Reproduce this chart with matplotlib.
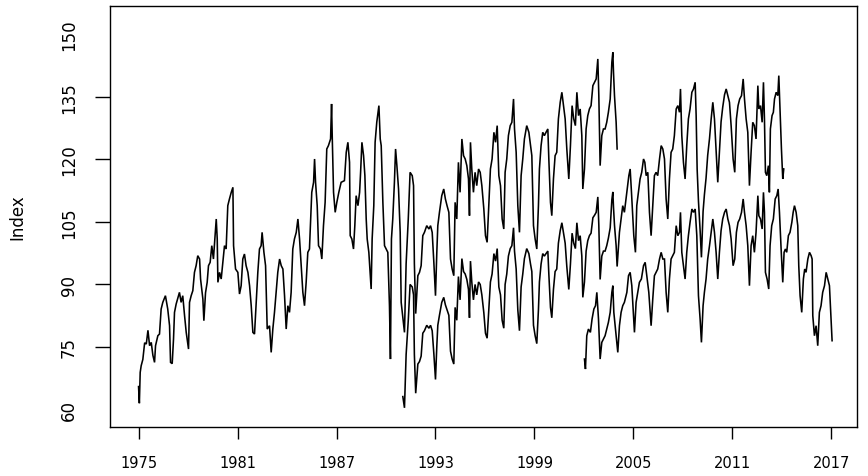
import matplotlib
matplotlib.use("Agg")
import matplotlib.pyplot as plt

# ---- data (decimal year, index value) ----
u_year = [1975.00, 1975.05, 1975.10, 1975.16, 1975.26, 1975.37, 1975.47, 1975.57, 1975.67, 1975.77, 1975.87, 1975.97,
          1976.03, 1976.17, 1976.27, 1976.37, 1976.47, 1976.63, 1976.77, 1976.88, 1976.94, 1977.04, 1977.12, 1977.18,
          1977.28, 1977.48, 1977.58, 1977.68, 1977.79, 1977.89, 1978.03, 1978.09, 1978.19, 1978.29, 1978.39, 1978.49,
          1978.59, 1978.70, 1978.76, 1978.90, 1978.96, 1979.06, 1979.16, 1979.24, 1979.34, 1979.44, 1979.54, 1979.65,
          1979.71, 1979.77, 1979.81, 1979.91, 1980.01, 1980.11, 1980.21, 1980.31, 1980.41, 1980.51, 1980.62, 1980.72,
          1980.76, 1980.88, 1981.02, 1981.12, 1981.22, 1981.32, 1981.42, 1981.52, 1981.63, 1981.73, 1981.83, 1981.93,
          1982.03, 1982.13, 1982.23, 1982.33, 1982.43, 1982.49, 1982.60, 1982.70, 1982.80, 1982.94, 1983.04, 1983.14,
          1983.24, 1983.34, 1983.44, 1983.55, 1983.65, 1983.75, 1983.85, 1983.95, 1984.05, 1984.15, 1984.25, 1984.35,
          1984.45, 1984.56, 1984.66, 1984.76, 1984.86, 1984.96, 1985.06, 1985.16, 1985.26, 1985.36, 1985.42, 1985.50,
          1985.61, 1985.67, 1985.73, 1985.83, 1985.91, 1986.03, 1986.11, 1986.21, 1986.31, 1986.41, 1986.51, 1986.64,
          1986.70, 1986.74, 1986.82, 1986.92, 1987.02, 1987.14, 1987.28, 1987.48, 1987.59, 1987.69, 1987.79, 1987.83,
          1987.93, 1988.03, 1988.11, 1988.19, 1988.30, 1988.40, 1988.46, 1988.54, 1988.64, 1988.72, 1988.80, 1988.86,
          1988.96, 1989.04, 1989.10, 1989.16, 1989.26, 1989.34, 1989.44, 1989.57, 1989.65, 1989.71, 1989.81, 1989.91,
          1990.01, 1990.11, 1990.21, 1990.27, 1990.33, 1990.41, 1990.51, 1990.58, 1990.66, 1990.76, 1990.86, 1990.92,
          1991.02, 1991.12, 1991.22, 1991.35, 1991.46, 1991.59, 1991.67, 1991.72, 1991.80, 1991.93, 1992.03, 1992.13,
          1992.23, 1992.33, 1992.47, 1992.60, 1992.70, 1992.80, 1992.90, 1993.00, 1993.08, 1993.14, 1993.24, 1993.38,
          1993.50, 1993.60, 1993.70, 1993.81, 1993.91, 1994.01, 1994.11, 1994.19, 1994.29, 1994.39, 1994.49, 1994.60,
          1994.70, 1994.80, 1994.90, 1995.00, 1995.06, 1995.12, 1995.20, 1995.30, 1995.40, 1995.50, 1995.61, 1995.71,
          1995.81, 1995.93, 1996.03, 1996.13, 1996.23, 1996.33, 1996.43, 1996.54, 1996.64, 1996.74, 1996.84, 1996.94,
          1997.04, 1997.14, 1997.22, 1997.32, 1997.42, 1997.53, 1997.63, 1997.73, 1997.79, 1997.89, 1997.99, 1998.09,
          1998.19, 1998.29, 1998.39, 1998.53, 1998.66, 1998.76, 1998.84, 1998.94, 1999.04, 1999.14, 1999.24, 1999.30,
          1999.40, 1999.50, 1999.60, 1999.70, 1999.81, 1999.87, 1999.97, 2000.05, 2000.15, 2000.25, 2000.35, 2000.45,
          2000.56, 2000.66, 2000.76, 2000.86, 2000.96, 2001.08, 2001.18, 2001.28, 2001.38, 2001.48, 2001.57, 2001.67,
          2001.77, 2001.87, 2001.93, 2002.03, 2002.13, 2002.23, 2002.33, 2002.43, 2002.54, 2002.64, 2002.74, 2002.84,
          2002.90, 2002.98, 2003.08, 2003.18, 2003.28, 2003.38, 2003.48, 2003.59, 2003.69, 2003.75, 2003.79, 2003.85,
          2003.95, 2004.01]
u_value = [65.5, 61.5, 68.9, 70.5, 72.0, 76.0, 75.7, 79.0, 75.3, 76.1, 73.0, 71.3,
           75.3, 77.7, 78.1, 84.1, 85.7, 87.3, 84.1, 80.1, 71.3, 71.0, 76.9, 83.3,
           85.3, 88.1, 85.7, 87.3, 82.5, 78.5, 74.5, 85.7, 87.3, 88.5, 92.9, 94.5,
           96.9, 96.1, 91.3, 86.5, 81.3, 88.0, 90.5, 94.5, 95.3, 99.3, 96.1, 102.5,
           105.7, 100.9, 90.5, 92.9, 91.3, 95.3, 99.3, 98.5, 108.9, 110.5, 112.1, 113.3,
           99.3, 93.7, 92.9, 87.7, 89.7, 96.1, 97.3, 94.5, 92.9, 89.7, 84.9, 78.5,
           78.1, 85.7, 92.9, 98.5, 99.3, 102.5, 97.7, 94.5, 79.3, 80.1, 73.7, 79.3,
           83.3, 88.1, 92.9, 96.1, 94.5, 93.7, 87.3, 79.3, 84.9, 83.3, 88.1, 98.5,
           100.9, 102.5, 105.7, 100.9, 94.5, 88.1, 84.9, 90.5, 97.7, 98.5, 104.1, 112.1,
           114.5, 120.1, 114.5, 108.9, 99.3, 98.5, 96.1, 104.1, 109.7, 122.5, 123.3, 124.9,
           133.3, 125.7, 112.1, 107.3, 109.7, 112.1, 114.5, 114.9, 121.7, 124.1, 119.3, 101.7,
           100.9, 98.5, 104.1, 111.3, 108.9, 112.1, 116.9, 124.1, 120.9, 116.1, 105.7, 100.9,
           97.7, 92.9, 88.9, 100.9, 108.9, 124.1, 128.9, 132.9, 124.9, 123.3, 109.7, 99.3,
           98.5, 97.7, 84.9, 72.1, 100.9, 105.7, 114.5, 122.5, 118.5, 112.9, 102.5, 85.7,
           82.0, 78.5, 95.0, 105.7, 116.9, 116.1, 113.7, 95.0, 83.0, 92.1, 92.9, 94.5,
           101.7, 102.5, 104.1, 103.3, 104.1, 102.5, 95.3, 87.3, 97.7, 104.1, 107.3, 111.3,
           112.9, 110.5, 108.9, 107.3, 96.1, 93.7, 92.1, 109.7, 105.7, 119.3, 112.1, 124.9,
           120.9, 120.1, 118.5, 115.3, 106.5, 124.1, 117.7, 112.1, 116.9, 113.7, 117.7, 116.9,
           113.7, 108.1, 101.7, 100.1, 108.9, 117.7, 120.1, 126.5, 124.1, 128.1, 116.1, 113.7,
           105.7, 103.3, 116.9, 120.1, 125.7, 128.1, 128.9, 134.5, 127.3, 121.7, 108.9, 102.5,
           116.1, 120.1, 124.9, 128.1, 126.5, 123.3, 120.9, 104.1, 100.9, 98.5, 108.9, 117.7,
           123.3, 126.5, 125.7, 126.5, 127.3, 120.1, 109.7, 106.5, 115.3, 120.9, 121.7, 129.7,
           133.7, 136.1, 132.9, 129.7, 122.5, 115.3, 123.3, 132.9, 129.7, 128.1, 136.1, 130.5,
           132.1, 125.7, 112.9, 117.7, 127.3, 130.5, 132.1, 132.9, 137.7, 138.5, 139.3, 144.1,
           135.3, 118.5, 125.7, 127.3, 127.3, 128.9, 131.3, 134.5, 143.3, 145.7, 140.9, 135.3,
           128.9, 122.5]

m_year = [1991.02, 1991.12, 1991.22, 1991.35, 1991.46, 1991.59, 1991.67, 1991.72, 1991.80, 1991.93, 1992.03, 1992.13,
          1992.23, 1992.33, 1992.47, 1992.60, 1992.70, 1992.80, 1992.90, 1993.00, 1993.08, 1993.14, 1993.24, 1993.38,
          1993.50, 1993.60, 1993.70, 1993.81, 1993.91, 1994.01, 1994.11, 1994.19, 1994.29, 1994.39, 1994.49, 1994.60,
          1994.70, 1994.80, 1994.90, 1995.00, 1995.06, 1995.12, 1995.20, 1995.30, 1995.40, 1995.50, 1995.61, 1995.71,
          1995.81, 1995.93, 1996.03, 1996.13, 1996.23, 1996.33, 1996.43, 1996.54, 1996.64, 1996.74, 1996.84, 1996.94,
          1997.04, 1997.14, 1997.22, 1997.32, 1997.42, 1997.53, 1997.63, 1997.73, 1997.79, 1997.89, 1997.99, 1998.09,
          1998.19, 1998.29, 1998.39, 1998.53, 1998.66, 1998.76, 1998.84, 1998.94, 1999.04, 1999.14, 1999.24, 1999.30,
          1999.40, 1999.50, 1999.60, 1999.70, 1999.81, 1999.87, 1999.97, 2000.05, 2000.15, 2000.25, 2000.35, 2000.45,
          2000.56, 2000.66, 2000.76, 2000.86, 2000.96, 2001.08, 2001.18, 2001.28, 2001.38, 2001.48, 2001.57, 2001.67,
          2001.77, 2001.87, 2001.93, 2002.03, 2002.13, 2002.23, 2002.33, 2002.43, 2002.54, 2002.64, 2002.74, 2002.84,
          2002.90, 2002.98, 2003.08, 2003.18, 2003.28, 2003.38, 2003.48, 2003.59, 2003.69, 2003.75, 2003.79, 2003.85,
          2003.95, 2004.01, 2004.15, 2004.25, 2004.35, 2004.45, 2004.60, 2004.72, 2004.80, 2004.88, 2005.02, 2005.12,
          2005.20, 2005.30, 2005.40, 2005.50, 2005.61, 2005.69, 2005.77, 2005.87, 2005.97, 2006.07, 2006.17, 2006.27,
          2006.37, 2006.47, 2006.58, 2006.68, 2006.78, 2006.88, 2006.98, 2007.08, 2007.18, 2007.28, 2007.38, 2007.48,
          2007.59, 2007.69, 2007.79, 2007.85, 2007.93, 2008.03, 2008.13, 2008.23, 2008.33, 2008.43, 2008.54, 2008.64,
          2008.74, 2008.80, 2008.86, 2008.94, 2009.04, 2009.12, 2009.22, 2009.30, 2009.40, 2009.50, 2009.61, 2009.71,
          2009.81, 2009.91, 2010.01, 2010.11, 2010.21, 2010.31, 2010.41, 2010.52, 2010.62, 2010.72, 2010.82, 2010.92,
          2011.04, 2011.14, 2011.24, 2011.34, 2011.44, 2011.55, 2011.65, 2011.73, 2011.83, 2011.93, 2012.03, 2012.13,
          2012.23, 2012.33, 2012.43, 2012.54, 2012.60, 2012.70, 2012.80, 2012.88, 2012.94, 2013.00, 2013.08, 2013.18,
          2013.24, 2013.30, 2013.40, 2013.48, 2013.55, 2013.65, 2013.75, 2013.81, 2013.89, 2013.97, 2014.05, 2014.11]
m_value = [63.1, 60.4, 73.2, 81.4, 90.0, 89.4, 87.5, 73.2, 63.9, 70.9, 71.5, 72.8,
           78.3, 78.9, 80.2, 79.5, 80.2, 78.9, 73.4, 67.2, 75.2, 80.2, 82.6, 85.7,
           86.9, 85.1, 83.9, 82.6, 74.0, 72.1, 70.9, 84.5, 81.4, 91.9, 86.3, 96.2,
           93.1, 92.5, 91.2, 88.8, 82.0, 95.6, 90.6, 86.3, 90.0, 87.5, 90.6, 90.0,
           87.5, 83.2, 78.3, 77.1, 83.9, 90.6, 92.5, 97.4, 95.6, 98.6, 89.4, 87.5,
           81.4, 79.5, 90.0, 92.5, 96.8, 98.6, 99.3, 103.6, 98.0, 93.7, 83.9, 78.9,
           89.4, 92.5, 96.2, 98.6, 97.4, 94.9, 93.1, 80.2, 77.7, 75.8, 83.9, 90.6,
           94.9, 97.4, 96.8, 97.4, 98.0, 92.5, 84.5, 82.0, 88.8, 93.1, 93.7, 99.9,
           102.9, 104.8, 102.3, 99.9, 94.3, 88.8, 94.9, 102.3, 99.9, 98.6, 104.8, 100.5,
           101.7, 96.8, 86.9, 90.6, 98.0, 100.5, 101.7, 102.3, 106.0, 106.6, 107.3, 111.0,
           104.2, 91.2, 96.8, 98.0, 98.0, 99.3, 101.1, 103.6, 110.3, 112.2, 108.5, 104.2,
           99.3, 94.3, 102.5, 105.7, 108.9, 107.3, 112.1, 116.1, 117.7, 112.1, 101.7, 97.7,
           108.9, 112.1, 115.3, 116.9, 120.1, 119.3, 116.1, 116.9, 107.3, 101.7, 108.9, 116.1,
           116.9, 116.1, 120.1, 123.3, 122.5, 120.1, 110.5, 105.7, 115.3, 121.7, 122.5, 125.7,
           132.1, 132.9, 131.3, 136.9, 125.7, 119.3, 115.3, 123.3, 129.7, 132.1, 136.1, 136.9,
           138.5, 130.5, 117.7, 110.0, 103.0, 96.5, 107.5, 111.5, 115.5, 121.0, 125.0, 129.7,
           133.7, 129.7, 122.0, 114.5, 121.7, 129.0, 132.5, 135.5, 136.9, 135.3, 133.7, 128.1,
           120.1, 116.9, 129.7, 132.9, 134.5, 135.3, 139.3, 134.5, 129.7, 126.5, 113.7, 121.7,
           128.9, 128.1, 124.9, 137.7, 132.1, 132.9, 128.9, 138.5, 129.7, 116.9, 116.1, 118.5,
           112.1, 127.3, 130.5, 131.3, 134.5, 136.1, 135.3, 140.1, 131.3, 122.5, 115.3, 117.7]

l_year = [2002.03, 2002.09, 2002.17, 2002.27, 2002.39, 2002.49, 2002.60, 2002.70, 2002.78, 2002.88, 2002.98, 2003.08,
          2003.18, 2003.28, 2003.38, 2003.48, 2003.59, 2003.69, 2003.75, 2003.81, 2003.91, 2004.05, 2004.15, 2004.25,
          2004.35, 2004.45, 2004.60, 2004.70, 2004.80, 2004.90, 2005.06, 2005.16, 2005.26, 2005.36, 2005.48, 2005.61,
          2005.71, 2005.81, 2005.93, 2006.07, 2006.17, 2006.27, 2006.37, 2006.47, 2006.58, 2006.68, 2006.78, 2006.88,
          2006.98, 2007.08, 2007.18, 2007.28, 2007.38, 2007.48, 2007.59, 2007.69, 2007.79, 2007.85, 2007.93, 2008.03,
          2008.13, 2008.23, 2008.33, 2008.43, 2008.54, 2008.64, 2008.74, 2008.84, 2008.94, 2009.04, 2009.12, 2009.22,
          2009.30, 2009.40, 2009.50, 2009.61, 2009.71, 2009.81, 2009.91, 2010.01, 2010.11, 2010.21, 2010.31, 2010.41,
          2010.52, 2010.62, 2010.72, 2010.82, 2010.92, 2011.04, 2011.14, 2011.24, 2011.34, 2011.44, 2011.55, 2011.65,
          2011.73, 2011.83, 2011.93, 2012.03, 2012.13, 2012.23, 2012.33, 2012.43, 2012.54, 2012.60, 2012.70, 2012.80,
          2012.88, 2012.94, 2013.00, 2013.10, 2013.20, 2013.28, 2013.38, 2013.48, 2013.59, 2013.69, 2013.77, 2013.85,
          2013.95, 2014.05, 2014.13, 2014.21, 2014.29, 2014.39, 2014.49, 2014.60, 2014.68, 2014.76, 2014.86, 2014.96,
          2015.02, 2015.10, 2015.20, 2015.30, 2015.38, 2015.46, 2015.57, 2015.67, 2015.77, 2015.83, 2015.87, 2015.97,
          2016.07, 2016.17, 2016.27, 2016.37, 2016.47, 2016.58, 2016.68, 2016.78, 2016.88, 2016.98, 2017.04]
l_value = [72.1, 69.7, 77.7, 79.3, 78.5, 81.7, 84.1, 84.9, 88.1, 81.7, 72.1, 76.1,
           76.9, 77.7, 79.3, 80.9, 83.3, 88.1, 89.7, 83.3, 79.3, 73.7, 80.1, 83.3,
           84.9, 85.7, 88.1, 92.1, 92.9, 89.7, 78.5, 85.7, 88.1, 90.5, 91.3, 94.5,
           95.3, 92.1, 88.1, 80.1, 86.5, 92.1, 92.9, 93.7, 96.1, 97.7, 96.1, 96.1,
           88.1, 83.3, 91.3, 96.1, 96.9, 97.7, 104.1, 101.7, 102.5, 107.3, 97.7, 94.5,
           91.3, 97.7, 101.7, 104.9, 108.1, 107.3, 108.1, 101.7, 87.3, 81.7, 76.1, 84.9,
           88.1, 91.3, 96.1, 99.3, 102.5, 105.7, 102.5, 97.7, 91.3, 97.7, 102.9, 105.7,
           107.3, 108.1, 105.7, 104.1, 100.9, 94.5, 96.1, 102.5, 104.9, 105.7, 107.3, 110.5,
           107.3, 104.1, 99.3, 89.7, 99.3, 101.7, 97.7, 102.5, 111.3, 106.5, 105.7, 103.3,
           112.1, 107.3, 92.9, 91.3, 88.9, 99.3, 104.1, 105.7, 110.5, 111.3, 112.9, 107.3,
           98.5, 90.5, 97.7, 98.5, 97.7, 101.7, 102.5, 104.9, 107.3, 108.9, 107.3, 104.1,
           94.5, 87.3, 83.3, 91.3, 93.7, 92.9, 96.1, 97.7, 96.9, 96.1, 82.5, 77.7,
           80.1, 75.3, 83.3, 84.9, 88.1, 89.7, 92.9, 91.3, 89.7, 81.7, 76.5]

x_ticks = [1975, 1981, 1987, 1993, 1999, 2005, 2011, 2017]
y_ticks = [60, 75, 90, 105, 120, 135, 150]
y_label = "Index"

# ---- figure ----
W, H = 868, 477
fig = plt.figure(figsize=(W / 100, H / 100), dpi=100)
ax = fig.add_axes([110 / W, 1 - 428 / H, (857 - 110) / W, (428 - 7) / H])

for xs, ys in ((u_year, u_value), (m_year, m_value), (l_year, l_value)):
    ax.plot(xs, ys, color="black", linewidth=1.15, solid_joinstyle="miter")

ax.set_xlim(1973.27, 2018.55)
ax.set_ylim(55.8, 156.8)

narrow = ["Liberation Sans Narrow", "DejaVu Sans Condensed", "DejaVu Sans"]

ax.set_xticks(x_ticks)
ax.set_xticklabels([str(t) for t in x_ticks], fontsize=10.5, family=["DejaVu Sans"])
ax.set_yticks(y_ticks)
ax.set_yticklabels([str(t) for t in y_ticks], rotation=90, va="center",
                   fontsize=12, family=narrow)
ax.tick_params(axis="x", direction="out", length=8.5, width=1.0, pad=12, colors="black")
ax.tick_params(axis="y", direction="out", length=11, width=1.0, pad=12, colors="black")

# the reference shows no tick marks at the extreme y labels
yt = ax.yaxis.get_major_ticks()
yt[0].tick1line.set_visible(False)
yt[-1].tick1line.set_visible(False)

ax.set_ylabel(y_label, fontsize=12, family=narrow, labelpad=24)

for s in ax.spines.values():
    s.set_linewidth(1.0)
    s.set_color("black")

fig.savefig("out.png", dpi=100, facecolor="white")
